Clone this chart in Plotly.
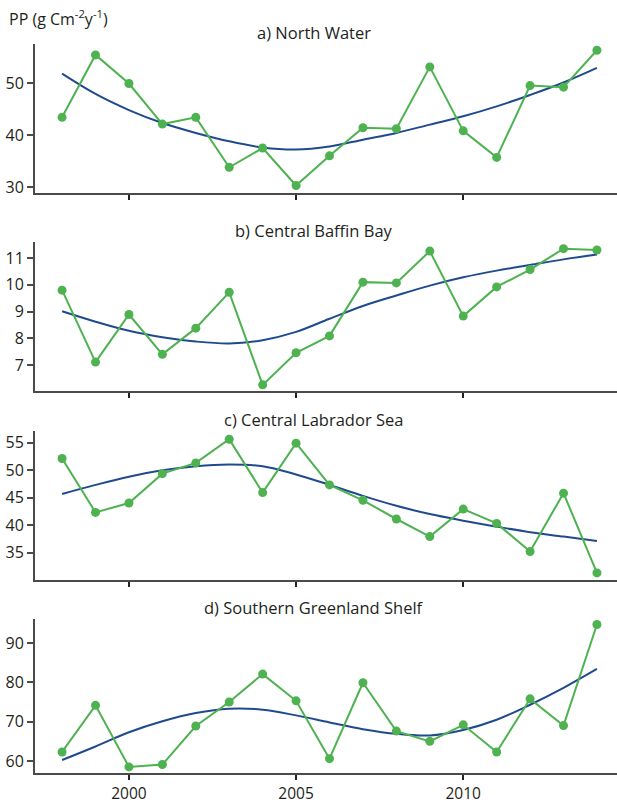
import plotly.graph_objects as go

years = list(range(1998, 2015))

north_water = [43.4, 55.4, 49.9, 42.1, 43.4, 33.8, 37.5, 30.3, 36.0, 41.4, 41.2, 53.1, 40.8, 35.7, 49.5, 49.2, 56.3]
north_water_fit = [51.8, 47.9, 44.8, 42.3, 40.4, 38.8, 37.6, 37.2, 37.8, 39.1, 40.4, 42.0, 43.6, 45.5, 47.7, 50.1, 52.9]

baffin = [9.8, 7.11, 8.89, 7.4, 8.38, 9.72, 6.26, 7.46, 8.09, 10.1, 10.07, 11.26, 8.83, 9.92, 10.57, 11.35, 11.3]
baffin_fit = [9.01, 8.62, 8.28, 8.04, 7.88, 7.81, 7.93, 8.24, 8.73, 9.21, 9.6, 9.97, 10.28, 10.53, 10.74, 10.95, 11.13]

labrador = [52.1, 42.3, 44.0, 49.35, 51.3, 55.6, 45.9, 54.9, 47.3, 44.5, 41.1, 37.9, 42.9, 40.3, 35.2, 45.8, 31.3]
labrador_fit = [45.65, 47.3, 48.8, 49.95, 50.7, 51.0, 50.7, 49.2, 47.3, 45.3, 43.5, 42.0, 40.8, 39.7, 38.7, 37.9, 37.1]

greenland = [62.3, 74.15, 58.5, 59.1, 68.9, 75.0, 82.1, 75.3, 60.6, 79.9, 67.6, 65.0, 69.2, 62.3, 75.8, 69.0, 94.7]
greenland_fit = [60.25, 63.7, 67.3, 70.1, 72.2, 73.3, 73.05, 71.6, 69.8, 68.1, 66.9, 66.5, 67.9, 70.5, 74.3, 78.6, 83.4]

titles = ["a) North Water", "b) Central Baffin Bay", "c) Central Labrador Sea", "d) Southern Greenland Shelf"]
y_label = "PP (g Cm<sup>-2</sup>y<sup>-1</sup>)"
x_ticks = [2000, 2005, 2010]

series = [north_water, baffin, labrador, greenland]
fits = [north_water_fit, baffin_fit, labrador_fit, greenland_fit]
y_ranges = [[28.85, 57.5], [6.03, 11.6], [30.0, 57.1], [56.95, 96.1]]
y_ticks = [[30, 40, 50], [7, 8, 9, 10, 11], [35, 40, 45, 50, 55], [60, 70, 80, 90]]
domains = [[0.7956, 1.0], [0.524, 0.7284], [0.2647, 0.4691], [0.0, 0.2112]]

GREEN = "#4db24f"
BLUE = "#1f4b8e"
AX = "#4a4a4a"
TXT = "#231f20"
FONT = "Open Sans"

fig = go.Figure()
layout = dict(
    width=617, height=802,
    margin=dict(l=35, r=0, t=44, b=29, autoexpand=False),
    paper_bgcolor="white", plot_bgcolor="white",
    showlegend=False,
    font=dict(family=FONT, size=16, color=TXT),
)

annotations = []
for i in range(4):
    n = "" if i == 0 else str(i + 1)
    xa = "x" + n
    ya = "y" + n
    fig.add_trace(go.Scatter(x=years, y=fits[i], mode="lines",
                             line=dict(color=BLUE, width=2, shape="spline", smoothing=1.0),
                             xaxis=xa, yaxis=ya, hoverinfo="skip"))
    fig.add_trace(go.Scatter(x=years, y=series[i], mode="lines+markers",
                             line=dict(color=GREEN, width=2),
                             marker=dict(color=GREEN, size=9),
                             xaxis=xa, yaxis=ya))
    layout["xaxis" + n] = dict(
        domain=[0, 1], anchor=ya, range=[1997.19, 2014.6],
        tickmode="array", tickvals=x_ticks,
        ticktext=[str(t) for t in x_ticks] if i == 3 else ["", "", ""],
        showticklabels=(i == 3),
        ticks="outside", ticklen=5, tickwidth=1.5, tickcolor="#222",
        showline=True, linecolor=AX, linewidth=2,
        showgrid=False, zeroline=False, automargin=False,
        tickfont=dict(size=15.5, color=TXT, family=FONT),
    )
    layout["yaxis" + n] = dict(
        domain=domains[i], anchor=xa, range=y_ranges[i],
        tickmode="array", tickvals=y_ticks[i],
        ticks="outside", ticklen=6, tickwidth=1.5, tickcolor=AX,
        showline=True, linecolor=AX, linewidth=2,
        showgrid=False, zeroline=False, automargin=False,
        tickfont=dict(size=16, color=TXT, family=FONT),
    )
    annotations.append(dict(
        text=titles[i], xref="paper", yref="paper",
        x=0.479, y=domains[i][1], yanchor="bottom", xanchor="center",
        yshift=-2, showarrow=False, font=dict(size=16.5, color=TXT, family=FONT),
    ))

annotations.append(dict(
    text=y_label, xref="paper", yref="paper", x=-0.0481, y=1.0357,
    xanchor="left", yanchor="middle", showarrow=False,
    font=dict(size=16, color=TXT, family=FONT),
))
layout["annotations"] = annotations
fig.update_layout(**layout)
fig.write_html("out.html", config={"displayModeBar": False},
               post_script="document.body.style.margin='0px';document.body.style.overflow='hidden';")
